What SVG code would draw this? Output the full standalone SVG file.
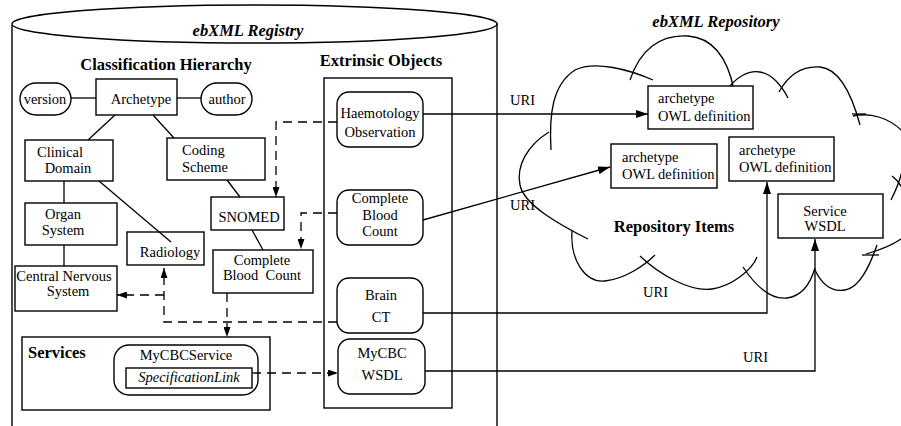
<svg xmlns="http://www.w3.org/2000/svg" width="901" height="426" viewBox="0 0 901 426">
  <style>
    text { font-family: "Liberation Serif", "Times New Roman", serif; font-size: 14.5px; fill: #000; }
    .c { text-anchor: middle; }
    .h { font-weight: bold; font-size: 16.5px; }
    .hi { font-weight: bold; font-style: italic; font-size: 16.5px; }
    .it { font-style: italic; }
    .box { fill: #fff; stroke: #000; stroke-width: 1.4; }
    .frame { fill: none; stroke: #000; stroke-width: 1.4; }
    .ln { fill: none; stroke: #000; stroke-width: 1.3; }
    .dash { stroke-dasharray: 9 6; }
    .cloud { fill: none; stroke: #000; stroke-width: 1.3; }
  </style>
  <defs>
    <marker id="arr" viewBox="0 0 12 8" refX="12" refY="4" markerWidth="12" markerHeight="8" markerUnits="userSpaceOnUse" orient="auto">
      <path d="M0,0 L12,4 L0,8 z" fill="#000"/>
    </marker>
    <marker id="arrs" viewBox="0 0 10 7" refX="10" refY="3.5" markerWidth="10" markerHeight="7" markerUnits="userSpaceOnUse" orient="auto">
      <path d="M0,0 L10,3.5 L0,7 z" fill="#000"/>
    </marker>
  </defs>

  <!-- registry cylinder -->
  <g id="registry">
    <ellipse cx="254.5" cy="24" rx="242.5" ry="19" class="frame"/>
    <path d="M12 25 V426 M497 23 V426" class="frame"/>
    <text x="248" y="36" class="hi c">ebXML Registry</text>
    <text x="166" y="70" class="h c">Classification Hierarchy</text>
    <text x="381" y="66" class="h c">Extrinsic Objects</text>
    <rect x="324" y="78" width="128" height="330" class="frame"/>
  </g>

  <!-- repository cloud -->
  <g id="repository">
    <text x="716" y="27" class="hi c">ebXML Repository</text>
    <path class="cloud" d="M551 150 C549 115 552 85 575 70 C595 60 630 70 653 80"/>
    <path class="cloud" d="M630 80 C640 50 660 34 688 36 C715 38 728 60 734 90"/>
    <path class="cloud" d="M727 90 C735 78 748 70 760 72 C772 74 782 86 788 98"/>
    <path class="cloud" d="M779 92 C790 72 805 66 820 67 C840 69 852 95 860 125"/>
    <path class="cloud" d="M853 116 C870 112 890 118 903 132"/>
    <path class="cloud" d="M852 114 H866"/>
    <path class="cloud" d="M903 150 C906 165 900 182 891 200"/>
    <path class="cloud" d="M892 176 C900 182 905 192 906 202"/>
    <path class="cloud" d="M866 254 C880 250 895 245 906 235"/>
    <path class="cloud" d="M815 270 C822 285 832 292 845 290 C860 288 870 265 877 245"/>
    <path class="cloud" d="M862 255 H879"/>
    <path class="cloud" d="M743 267 C755 285 770 300 787 298 C802 296 810 285 815 268"/>
    <path class="cloud" d="M640 256 C660 275 690 292 712 289 C732 286 752 270 757 257"/>
    <path class="cloud" d="M572 231 C570 260 585 283 605 281 C625 279 645 265 655 255"/>
    <path class="cloud" d="M549 132 C528 145 516 165 520 185 C524 205 560 225 588 239"/>
    <text x="674" y="232" class="h c">Repository Items</text>
  </g>

  <!-- classification hierarchy nodes -->
  <g id="version"><rect x="20" y="83" width="51" height="32" rx="16" class="box"/><text x="45" y="104" class="c">version</text></g>
  <g id="archetype"><rect x="96" y="79" width="81" height="36" class="box"/><text x="141" y="104" class="c">Archetype</text></g>
  <g id="author"><rect x="201" y="83" width="51" height="32" rx="16" class="box"/><text x="227" y="104" class="c">author</text></g>
  <g id="clinical-domain"><rect x="25" y="140" width="88" height="41" class="box"/><text x="60" y="157" class="c">Clinical</text><text x="68" y="173" class="c">Domain</text></g>
  <g id="coding-scheme"><rect x="167" y="138" width="98" height="42" class="box"/><text x="182" y="155">Coding</text><text x="182" y="172">Scheme</text></g>
  <g id="organ-system"><rect x="25" y="203" width="92" height="42" class="box"/><text x="63" y="219" class="c">Organ</text><text x="63" y="235" class="c">System</text></g>
  <g id="cns"><rect x="15" y="266" width="102" height="45" class="box"/><text x="64" y="281" class="c">Central Nervous</text><text x="68" y="296" class="c">System</text></g>
  <g id="radiology"><rect x="127" y="232" width="77" height="33" class="box"/><text x="170" y="257" class="c">Radiology</text></g>
  <g id="snomed"><rect x="211" y="197" width="73" height="33" class="box"/><text x="249" y="222" class="c">SNOMED</text></g>
  <g id="cbc-class"><rect x="213" y="250" width="100" height="43" class="box"/><text x="262" y="265" class="c">Complete</text><text x="262" y="280" class="c" xml:space="preserve">Blood  Count</text></g>

  <!-- services -->
  <g id="services">
    <rect x="22" y="337" width="248" height="73" class="box"/>
    <text x="28" y="358" class="h">Services</text>
    <rect x="114" y="345" width="144" height="50" rx="15" class="box"/>
    <text x="186" y="360" class="c">MyCBCService</text>
    <rect x="126" y="368" width="126" height="20" class="box"/>
    <text x="189" y="382" class="c it">SpecificationLink</text>
  </g>

  <!-- extrinsic objects -->
  <g id="haemotology"><rect x="337" y="92" width="86" height="55" rx="12" class="box"/><text x="380" y="118" class="c">Haemotology</text><text x="380" y="137" class="c">Observation</text></g>
  <g id="cbc-ext"><rect x="337" y="190" width="86" height="55" rx="12" class="box"/><text x="380" y="203" class="c">Complete</text><text x="380" y="219.5" class="c">Blood</text><text x="380" y="236" class="c">Count</text></g>
  <g id="brain-ct"><rect x="337" y="278" width="86" height="55" rx="12" class="box"/><text x="381" y="300" class="c">Brain</text><text x="381" y="322" class="c">CT</text></g>
  <g id="mycbc-wsdl"><rect x="338" y="339" width="87" height="55" rx="12" class="box"/><text x="382" y="358" class="c">MyCBC</text><text x="382" y="380" class="c">WSDL</text></g>

  <!-- repository items -->
  <g id="owl-1"><rect x="648" y="86" width="105" height="43" class="box"/><text x="658" y="103">archetype</text><text x="658" y="121">OWL definition</text></g>
  <g id="owl-2"><rect x="611" y="144" width="106" height="44" class="box"/><text x="622" y="162">archetype</text><text x="622" y="179">OWL definition</text></g>
  <g id="owl-3"><rect x="729" y="137" width="105" height="44" class="box"/><text x="739" y="155">archetype</text><text x="739" y="172">OWL definition</text></g>
  <g id="service-wsdl"><rect x="778" y="194" width="105" height="44" class="box"/><text x="825" y="216" class="c">Service</text><text x="825" y="231" class="c">WSDL</text></g>

  <!-- connectors -->
  <g id="connectors">
    <path class="ln" d="M71 98 H96"/>
    <path class="ln" d="M177 98 H201"/>
    <path class="ln" d="M115 115 L88 140"/>
    <path class="ln" d="M153 115 L174 138"/>
    <path class="ln" d="M64 181 V203"/>
    <path class="ln" d="M99 181 L171 242"/>
    <path class="ln" d="M227 180 L240 197"/>
    <path class="ln" d="M252 230 L263 250"/>
    <path class="ln" d="M64 245 V266"/>

    <path class="ln dash" d="M337 122 H276 V197" marker-end="url(#arrs)"/>
    <path class="ln dash" d="M337 213 H301 V249" marker-end="url(#arrs)"/>
    <path class="ln dash" d="M227 293 V337" marker-end="url(#arrs)"/>
    <path class="ln dash" d="M337 322 H164 V268" marker-end="url(#arrs)"/>
    <path class="ln dash" d="M164 295 H117" marker-end="url(#arrs)"/>
    <path class="ln dash" d="M252 373 H338" marker-end="url(#arrs)"/>

    <path class="ln" d="M423 114 H648" marker-end="url(#arr)"/>
    <path class="ln" d="M423 220 L610 167" marker-end="url(#arr)"/>
    <path class="ln" d="M423 313 H767 V182" marker-end="url(#arr)"/>
    <path class="ln" d="M425 371 H815 V239" marker-end="url(#arr)"/>

    <text x="510" y="105">URI</text>
    <text x="510" y="210">URI</text>
    <text x="643" y="297">URI</text>
    <text x="743" y="362">URI</text>
  </g>
</svg>
